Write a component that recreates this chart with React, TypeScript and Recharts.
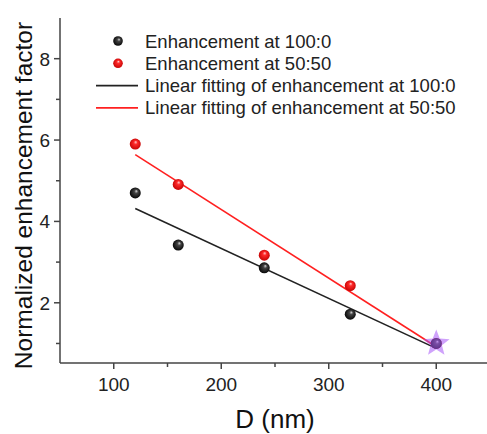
import React from 'react';
import {
  ComposedChart,
  Line,
  Scatter,
  XAxis,
  YAxis,
  Label,
  Legend,
} from 'recharts';

// values
const diameters = [120, 160, 240, 320, 400];
const enh100 = [4.7, 3.42, 2.86, 1.72, 1.0];
const enh5050 = [5.9, 4.91, 3.17, 2.42, 1.0];
const fitRange = [120, 400];
const fit100 = [4.32, 0.88];
const fit5050 = [5.64, 0.92];
const starX = [400];
const starY = [1.0];

const xTicks = [100, 150, 200, 250, 300, 350, 400, 450];
const yTicks = [1, 2, 3, 4, 5, 6, 7, 8];
const xLabels = [100, 200, 300, 400];
const yLabels = [2, 4, 6, 8];

const legendItems = [
  { label: 'Enhancement at 100:0', kind: 'ball', color: 'black' },
  { label: 'Enhancement at 50:50', kind: 'ball', color: 'red' },
  { label: 'Linear fitting of enhancement at 100:0', kind: 'line', color: '#222' },
  { label: 'Linear fitting of enhancement at 50:50', kind: 'line', color: '#ff2020' },
];

const FONT = 'Liberation Sans, Arial, sans-serif';
const AXIS = '#444';

const pts100 = diameters.map((d, i) => ({ x: d, y: enh100[i] }));
const pts5050 = diameters.map((d, i) => ({ x: d, y: enh5050[i] }));
const line100 = fitRange.map((d, i) => ({ x: d, y: fit100[i] }));
const line5050 = fitRange.map((d, i) => ({ x: d, y: fit5050[i] }));
const starPts = starX.map((d, i) => ({ x: d, y: starY[i] }));

function Ball({ cx, cy, color, r = 5.5 }: any) {
  if (cx == null || cy == null) return null;
  return <circle cx={cx} cy={cy} r={r} fill={`url(#ball-${color})`} />;
}

function Star({ cx, cy }: any) {
  if (cx == null || cy == null) return null;
  const outer = 14;
  const inner = 6;
  const pts: string[] = [];
  for (let k = 0; k < 10; k++) {
    const rad = k % 2 === 0 ? outer : inner;
    const a = -Math.PI / 2 + (k * Math.PI) / 5;
    pts.push(`${cx + rad * Math.cos(a)},${cy + rad * Math.sin(a)}`);
  }
  return <polygon points={pts.join(' ')} fill="#a855f7" fillOpacity={0.55} />;
}

function XTick({ x, y, payload }: any) {
  const major = xLabels.includes(payload.value);
  return (
    <g>
      <line x1={x} x2={x} y1={y} y2={y + (major ? 6 : 4)} stroke={AXIS} strokeWidth={1.5} />
      {major && (
        <text x={x} y={y + 28} textAnchor="middle" fontSize={19} fill="#222" fontFamily={FONT}>
          {payload.value}
        </text>
      )}
    </g>
  );
}

function YTick({ x, y, payload }: any) {
  const major = yLabels.includes(payload.value);
  return (
    <g>
      <line x1={x} x2={x - (major ? 6 : 4)} y1={y} y2={y} stroke={AXIS} strokeWidth={1.5} />
      {major && (
        <text x={x - 10} y={y + 7} textAnchor="end" fontSize={19} fill="#222" fontFamily={FONT}>
          {payload.value}
        </text>
      )}
    </g>
  );
}

function YTitle({ viewBox }: any) {
  const bx = 32;
  const cy = viewBox && viewBox.height ? viewBox.y + viewBox.height / 2 + 5 : 195;
  return (
    <text
      x={bx}
      y={cy}
      transform={`rotate(-90 ${bx} ${cy})`}
      textAnchor="middle"
      fontSize={24.5}
      fill="#111"
      fontFamily={FONT}
    >
      Normalized enhancement factor
    </text>
  );
}

function LegendBox() {
  return (
    <svg width={380} height={82} style={{ overflow: 'visible', display: 'block' }}>
      {legendItems.map((item, i) => {
        const cy = 8 + i * 22.3;
        return (
          <g key={item.label}>
            {item.kind === 'ball' ? (
              <circle cx={22} cy={cy} r={4.8} fill={`url(#ball-${item.color})`} />
            ) : (
              <line x1={0} x2={42} y1={cy} y2={cy} stroke={item.color} strokeWidth={1.6} />
            )}
            <text x={49} y={cy + 6.5} fontSize={18.5} fill="#222" fontFamily={FONT}>
              {item.label}
            </text>
          </g>
        );
      })}
    </svg>
  );
}

export default function App() {
  return (
    <div
      style={{
        position: 'absolute',
        left: 0,
        top: 0,
        width: 487,
        height: 434,
        overflow: 'hidden',
        background: '#fff',
      }}
    >
      <ComposedChart
        width={500}
        height={434}
        margin={{ top: 18, right: 10, left: 0, bottom: 0 }}
      >
        <defs>
          <radialGradient id="ball-black" cx="50%" cy="50%" r="55%" fx="62%" fy="32%">
            <stop offset="0%" stopColor="#d8d8d8" />
            <stop offset="30%" stopColor="#444" />
            <stop offset="100%" stopColor="#000" />
          </radialGradient>
          <radialGradient id="ball-red" cx="50%" cy="50%" r="55%" fx="55%" fy="30%">
            <stop offset="0%" stopColor="#ffd0d0" />
            <stop offset="30%" stopColor="#ff2a2a" />
            <stop offset="100%" stopColor="#c00000" />
          </radialGradient>
        </defs>
        <XAxis
          dataKey="x"
          type="number"
          domain={[50, 450]}
          ticks={xTicks}
          interval={0}
          height={71}
          stroke={AXIS}
          strokeWidth={1.5}
          tickLine={false}
          tickSize={0}
          tickMargin={0}
          tick={<XTick />}
        >
          <Label
            value="D (nm)"
            position="insideBottom"
            offset={6}
            style={{ fontSize: 26, fill: '#111', fontFamily: FONT }}
          />
        </XAxis>
        <YAxis
          dataKey="y"
          type="number"
          domain={[0.52, 9]}
          ticks={yTicks}
          interval={0}
          width={60}
          stroke={AXIS}
          strokeWidth={1.5}
          tickLine={false}
          tickSize={0}
          tickMargin={0}
          tick={<YTick />}
        >
          <Label content={<YTitle />} />
        </YAxis>
        <XAxis xAxisId="top" orientation="top" type="number" domain={[50, 450]} tick={false} tickLine={false} stroke={AXIS} strokeWidth={1.5} height={0} />
        <Legend
          layout="horizontal"
          align="center"
          verticalAlign="middle"
          wrapperStyle={{ left: 96, top: 33, width: 380, height: 82 }}
          content={() => <LegendBox />}
        />
        <Line
          data={line100}
          dataKey="y"
          stroke="#222"
          strokeWidth={1.6}
          dot={false}
          isAnimationActive={false}
          legendType="none"
        />
        <Line
          data={line5050}
          dataKey="y"
          stroke="#ff2020"
          strokeWidth={1.6}
          dot={false}
          isAnimationActive={false}
          legendType="none"
        />
        <Scatter
          data={pts5050}
          dataKey="y"
          isAnimationActive={false}
          shape={(p: any) => <Ball {...p} color="red" />}
        />
        <Scatter
          data={pts100}
          dataKey="y"
          isAnimationActive={false}
          shape={(p: any) => <Ball {...p} color="black" />}
        />
        <Scatter
          data={starPts}
          dataKey="y"
          isAnimationActive={false}
          shape={(p: any) => <Star {...p} />}
        />
      </ComposedChart>
    </div>
  );
}
